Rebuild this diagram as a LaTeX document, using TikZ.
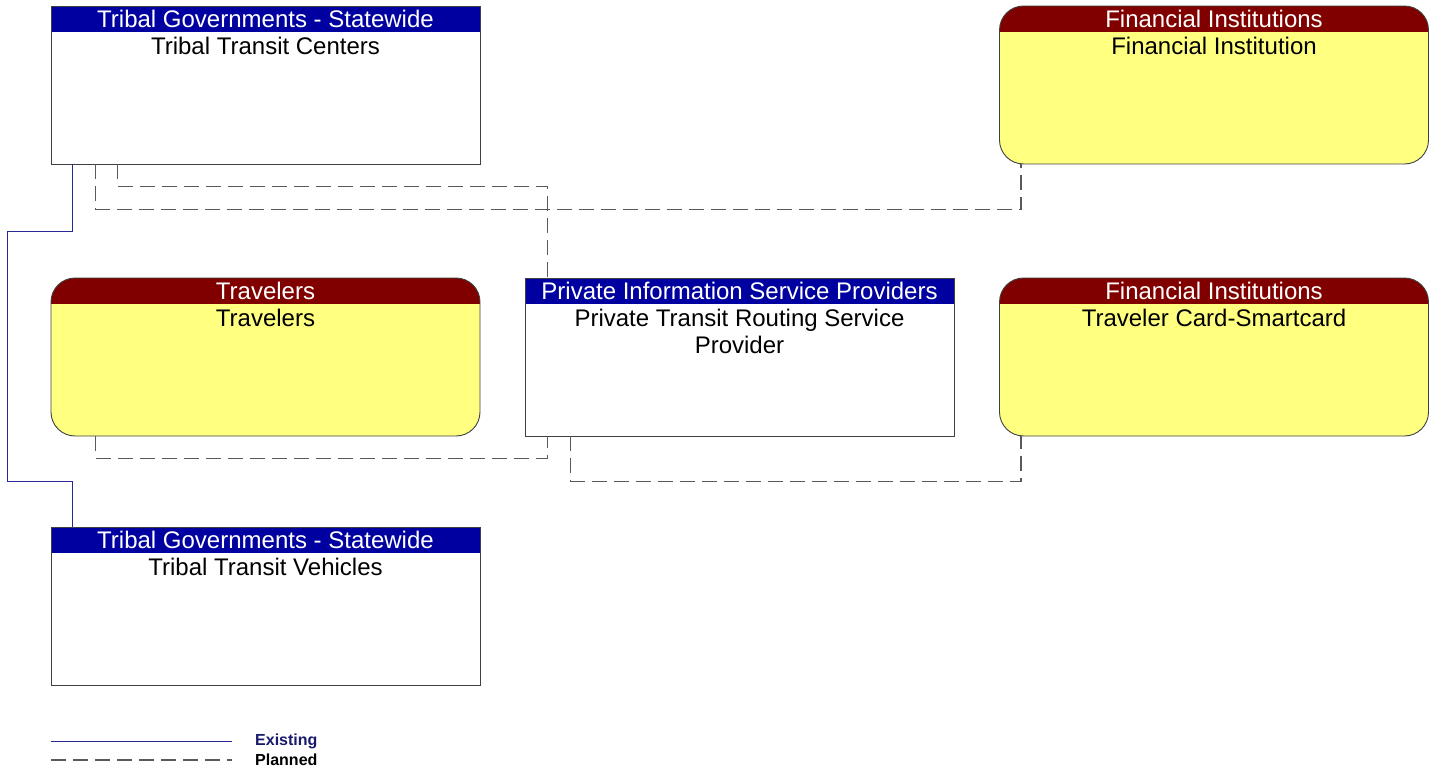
\documentclass[tikz,border=0pt]{standalone}
\usepackage{fontspec}
\setmainfont{Liberation Sans}
\usepackage{tikz}

\definecolor{hdrblue}{RGB}{0,0,160}
\definecolor{hdrred}{RGB}{128,0,0}
\definecolor{termyellow}{RGB}{255,255,128}
\definecolor{flowblue}{RGB}{40,40,150}
\definecolor{legendblue}{RGB}{25,25,110}

\tikzset{
  centerbox/.style={draw=black!75, line width=0.9pt, fill=white, minimum width=429pt,
    minimum height=158pt, inner sep=0pt,
    path picture={\fill[hdrblue, sharp corners] (path picture bounding box.north west) rectangle
      ([yshift=-26pt]path picture bounding box.north east);}},
  termbox/.style={centerbox, fill=termyellow, rounded corners=24pt,
    path picture={\fill[hdrred, sharp corners] (path picture bounding box.north west) rectangle
      ([yshift=-26pt]path picture bounding box.north east);}},
  hdrtext/.style={text=white, font=\fontsize{24}{27}\selectfont, inner sep=0pt},
  nametext/.style={anchor=north, align=center,
    font=\fontsize{24}{27}\selectfont, inner sep=0pt},
  existing/.style={flowblue, line width=1pt},
  planned/.style={black!65, line width=1.2pt, dash pattern=on 15pt off 7pt}
}

\begin{document}
\begin{tikzpicture}[x=1pt,y=-1pt]
\useasboundingbox (0,0) rectangle (1439,775);

% boxes
\node[centerbox] (ttc) at (265.5,85) {};
\node[hdrtext] at ([yshift=-13pt]ttc.north) {Tribal Governments - Statewide};
\node[nametext] at ([yshift=-31pt]ttc.north) {Tribal Transit Centers};

\node[termbox] (fi) at (1214,85) {};
\node[hdrtext] at ([yshift=-13pt]fi.north) {Financial Institutions};
\node[nametext] at ([yshift=-31pt]fi.north) {Financial Institution};

\node[termbox] (trav) at (265.5,357) {};
\node[hdrtext] at ([yshift=-13pt]trav.north) {Travelers};
\node[nametext] at ([yshift=-31pt]trav.north) {Travelers};

\node[centerbox] (pisp) at (739.5,357) {};
\node[hdrtext] at ([yshift=-13pt]pisp.north) {Private Information Service Providers};
\node[nametext] at ([yshift=-31pt]pisp.north) {Private Transit Routing Service\\Provider};

\node[termbox] (card) at (1214,357) {};
\node[hdrtext] at ([yshift=-13pt]card.north) {Financial Institutions};
\node[nametext] at ([yshift=-31pt]card.north) {Traveler Card-Smartcard};

\node[centerbox] (ttv) at (265.5,606) {};
\node[hdrtext] at ([yshift=-13pt]ttv.north) {Tribal Governments - Statewide};
\node[nametext] at ([yshift=-31pt]ttv.north) {Tribal Transit Vehicles};

% flows
\coordinate (lane) at (7,481);
\draw[existing] ([xshift=22pt]ttc.south west) -- ++(0,67) -| (lane) -| ([xshift=22pt]ttv.north west);
\draw[planned] ([xshift=67pt]ttc.south west) -- ++(0,22) -| ([xshift=23pt]pisp.north west);
\draw[planned] ([xshift=45pt]ttc.south west) -- ++(0,45) -| ([xshift=22pt]fi.south west);
\draw[planned] ([xshift=45pt]trav.south west) -- ++(0,22) -| ([xshift=23pt]pisp.south west);
\draw[planned] ([xshift=46pt]pisp.south west) -- ++(0,45) -| ([xshift=22pt]card.south west);

% legend
\coordinate (exA) at (51,741);
\coordinate (exB) at (232,741);
\coordinate (plA) at (51,760);
\coordinate (plB) at (232,760);
\draw[existing] (exA) -- (exB);
\draw[planned] (plA) -- (plB);
\node[anchor=west, text=legendblue, font=\bfseries\fontsize{16}{18}\selectfont, inner sep=0pt] (exlbl) at (255,741) {Existing};
\node[anchor=west, font=\bfseries\fontsize{16}{18}\selectfont, inner sep=0pt] (pllbl) at (255,760) {Planned};
\end{tikzpicture}
\end{document}
